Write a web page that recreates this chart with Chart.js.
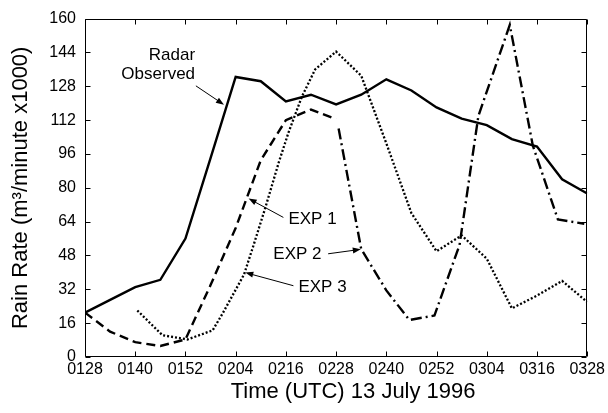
<!DOCTYPE html>
<html>
<head>
<meta charset="utf-8">
<script src="https://cdn.jsdelivr.net/npm/chart.js@4.4.1/dist/chart.umd.min.js"></script>
<style>
html,body{margin:0;padding:0;background:#fff}
#wrap{width:608px;height:413px;position:relative}
</style>
</head>
<body>
<div id="wrap"><canvas id="rainChart"></canvas></div>
<script>
// times are minutes after 0128 UTC
const X_TICKS = [0,12,24,36,48,60,72,84,96,108,120];
const Y_TICKS = [0,16,32,48,64,80,96,112,128,144,160];

const RADAR_T = [0,6,12,18,24,30,36,42,48,54,60,66,72,78,84,90,96,102,108,114,120];
const RADAR_V = [21,27,33,36.5,56,94,132.4,130.4,120.8,124,119.4,124,131.3,126,118,112.7,109.6,103,99.5,84,77.3];

const EXP1_T = [0,6,12,18,24,30,36,42,48,54,60];
const EXP1_V = [21,12,7,5.2,8.3,34,61,93,112,117,112.5];

const EXP2_T = [60.6,66,72,77.5,83.5,89.5,94,101.5,107,113,119.3];
const EXP2_V = [108,51,31.5,17.5,19.6,53,114,157,100,65,63];

const EXP3_T = [12.5,18.5,24.5,30.5,33,38,40.3,43,46.3,48.6,51.8,55,60,66,72,78,84,90,96,102,108,114,120];
const EXP3_V = [22,10.3,8.3,12.6,21,39,53,70,92,106,123,136,144.4,133,101,68,50,57.5,46.5,23,29,36,26];

// labels with arrows: text anchor and arrow tail/tip in data units
const NOTES = [
  { lines:['Radar','Observed'], at:[26.3,142.7], align:'right', from:[26.5,128.2], to:[33.2,119.3] },
  { lines:['EXP 1'], at:[48.6,65], align:'left', from:[47.4,66], to:[39.1,74.9] },
  { lines:['EXP 2'], at:[45,48.7], align:'left', from:[58.1,48.8], to:[65.9,50.9] },
  { lines:['EXP 3'], at:[51,32.8], align:'left', from:[49.8,33.7], to:[38.3,39.9] }
];
const X_TITLE = 'Time (UTC) 13 July 1996';
const Y_TITLE = 'Rain Rate (m³/minute x1000)';

const FONT = '"Liberation Sans", Arial, Helvetica, sans-serif';
const INK = '#000';

function hhmm(t) {
  const m = 88 + t, h = Math.floor(m / 60), mm = m % 60;
  return String(h).padStart(2,'0') + String(mm).padStart(2,'0');
}
function pts(ts, vs) { return ts.map((t,i) => ({ x:t, y:vs[i] })); }

// box round the plot + inward ticks on all four sides
const framePlugin = {
  id: 'frame',
  afterDatasetsDraw(chart) {
    const { ctx, chartArea:a, scales:{ x, y } } = chart;
    ctx.save();
    ctx.strokeStyle = INK; ctx.lineWidth = 1;
    ctx.beginPath();
    const L = Math.round(a.left)+.5, R = Math.round(a.right)-.5, T = Math.round(a.top)+.5, B = Math.round(a.bottom)-.5;
    ctx.rect(L, T, R-L, B-T);
    X_TICKS.forEach(v => { const px = Math.round(x.getPixelForValue(v))+.5;
      ctx.moveTo(px,B); ctx.lineTo(px,B-5); ctx.moveTo(px,T); ctx.lineTo(px,T+5); });
    Y_TICKS.forEach(v => { const py = Math.round(y.getPixelForValue(v))+.5;
      ctx.moveTo(L,py); ctx.lineTo(L+5,py); ctx.moveTo(R,py); ctx.lineTo(R-5,py); });
    ctx.stroke();
    // x title sits a little right of the plot centre in the original
    ctx.fillStyle = INK; ctx.font = '22px ' + FONT;
    ctx.textAlign = 'center'; ctx.textBaseline = 'middle';
    ctx.fillText(X_TITLE, (a.left + a.right) / 2 + 17, 392);
    ctx.restore();
  }
};

const notePlugin = {
  id: 'notes',
  afterDatasetsDraw(chart) {
    const { ctx, scales:{ x, y } } = chart;
    ctx.save();
    ctx.font = '17px ' + FONT; ctx.fillStyle = INK; ctx.strokeStyle = INK; ctx.lineWidth = 1;
    ctx.textBaseline = 'middle';
    NOTES.forEach(n => {
      ctx.textAlign = n.align;
      const tx = x.getPixelForValue(n.at[0]), ty = y.getPixelForValue(n.at[1]);
      n.lines.forEach((s,i) => ctx.fillText(s, tx, ty + i*19));
      const x0 = x.getPixelForValue(n.from[0]), y0 = y.getPixelForValue(n.from[1]);
      const x1 = x.getPixelForValue(n.to[0]), y1 = y.getPixelForValue(n.to[1]);
      const ang = Math.atan2(y1-y0, x1-x0);
      ctx.beginPath(); ctx.moveTo(x0,y0); ctx.lineTo(x1 - 6*Math.cos(ang), y1 - 6*Math.sin(ang)); ctx.stroke();
      ctx.beginPath();
      ctx.moveTo(x1,y1);
      ctx.lineTo(x1 - 8*Math.cos(ang) + 3*Math.sin(ang), y1 - 8*Math.sin(ang) - 3*Math.cos(ang));
      ctx.lineTo(x1 - 8*Math.cos(ang) - 3*Math.sin(ang), y1 - 8*Math.sin(ang) + 3*Math.cos(ang));
      ctx.closePath(); ctx.fill();
    });
    ctx.restore();
  }
};

const line = (label, data, dash, width) => ({
  label, data, borderColor: INK, backgroundColor: INK, borderWidth: width,
  borderDash: dash, pointRadius: 0, tension: 0, fill: false
});

new Chart(document.getElementById('rainChart'), {
  type: 'line',
  data: { datasets: [
    line('Radar Observed', pts(RADAR_T, RADAR_V), [], 2.4),
    line('EXP 1', pts(EXP1_T, EXP1_V), [9,5], 2.4),
    line('EXP 2', pts(EXP2_T, EXP2_V), [11,4,2,4], 2.4),
    line('EXP 3', pts(EXP3_T, EXP3_V), [2,2], 2.3)
  ]},
  options: {
    responsive: true, maintainAspectRatio: false, animation: false,
    layout: { padding: { top: 15, right: 17, left: 0, bottom: 0 } },
    plugins: { legend: { display: false }, tooltip: { enabled: false } },
    scales: {
      x: { type: 'linear', min: 0, max: 120,
        afterBuildTicks: s => { s.ticks = X_TICKS.map(v => ({ value: v })); },
        afterFit: s => { s.height = 56; },
        grid: { display: false, drawTicks: false }, border: { display: false },
        ticks: { color: INK, font: { family: FONT, size: 16 }, padding: 3, maxRotation: 0, autoSkip: false, callback: v => hhmm(v) },
        title: { display: false } },
      y: { min: 0, max: 160,
        afterBuildTicks: s => { s.ticks = Y_TICKS.map(v => ({ value: v })); },
        afterFit: s => { s.width = 85; },
        grid: { display: false, drawTicks: false }, border: { display: false },
        ticks: { color: INK, font: { family: FONT, size: 16 }, padding: 9, autoSkip: false },
        title: { display: true, text: Y_TITLE, color: INK, font: { family: FONT, size: 22 }, padding: { top: 8, bottom: 0 } } }
    }
  },
  plugins: [framePlugin, notePlugin]
});
</script>
</body>
</html>
